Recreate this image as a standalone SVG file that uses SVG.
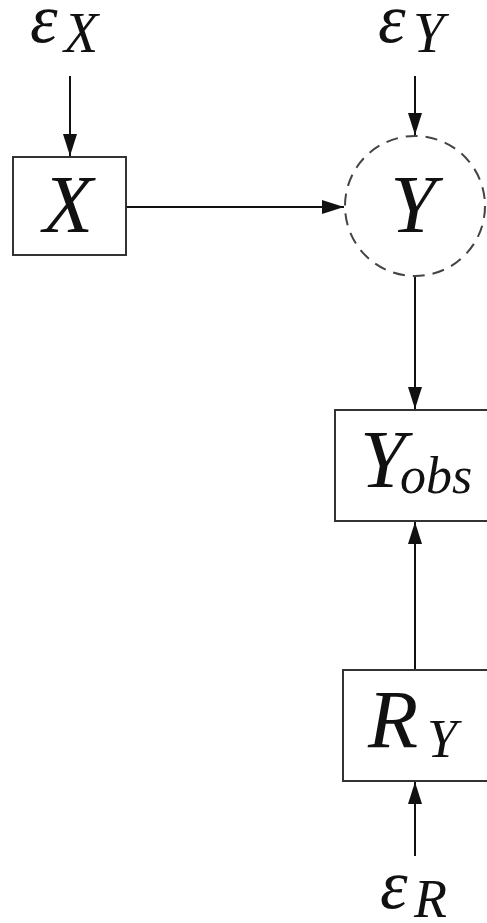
<svg xmlns="http://www.w3.org/2000/svg" width="487" height="923" viewBox="0 0 487 923">
  <defs>
    <marker id="arrow" viewBox="0 0 22 14" refX="22" refY="7" markerWidth="22" markerHeight="14" markerUnits="userSpaceOnUse" orient="auto">
      <path d="M0,0 L22,7 L0,14 Z" fill="#111"/>
    </marker>
  </defs>

  <!-- connectors -->
  <g id="edges" stroke="#111" stroke-width="2" fill="none" marker-end="url(#arrow)">
    <line x1="70" y1="76" x2="70" y2="156"/>
    <line x1="415" y1="76" x2="415" y2="135"/>
    <line x1="127" y1="207" x2="344" y2="207"/>
    <line x1="415" y1="276" x2="415" y2="409"/>
    <line x1="415" y1="670" x2="415" y2="522"/>
    <line x1="415" y1="856" x2="415" y2="782"/>
  </g>

  <g font-family="'Liberation Serif', serif" font-style="italic" fill="#111">
    <!-- exogenous noise terms -->
    <g id="eps_x">
      <text x="30" y="42" font-size="70">ε</text>
      <text x="64" y="52" font-size="56">X</text>
    </g>
    <g id="eps_y">
      <text x="378" y="42" font-size="70">ε</text>
      <text x="413" y="52" font-size="56">Y</text>
    </g>
    <g id="eps_r">
      <text x="380" y="908" font-size="70">ε</text>
      <text x="414" y="917" font-size="54">R</text>
    </g>

    <!-- observed cause -->
    <g id="X">
      <rect x="13" y="157" width="113" height="98" fill="#fff" stroke="#333" stroke-width="2"/>
      <text x="68" y="232" font-size="82" text-anchor="middle">X</text>
    </g>

    <!-- latent outcome -->
    <g id="Y">
      <circle cx="415" cy="206" r="70" fill="#fff" stroke="#444" stroke-width="2" stroke-dasharray="12 8"/>
      <text x="413" y="232" font-size="82" text-anchor="middle">Y</text>
    </g>

    <!-- observed outcome -->
    <g id="Yobs">
      <rect x="335" y="410" width="160" height="111" fill="#fff" stroke="#333" stroke-width="2"/>
      <text x="360" y="487" font-size="82">Y</text>
      <text x="400" y="493" font-size="52">obs</text>
    </g>

    <!-- missingness indicator -->
    <g id="Ry">
      <rect x="343" y="670" width="160" height="111" fill="#fff" stroke="#333" stroke-width="2"/>
      <text x="368" y="747" font-size="82">R</text>
      <text x="427" y="757" font-size="54">Y</text>
    </g>
  </g>
</svg>
